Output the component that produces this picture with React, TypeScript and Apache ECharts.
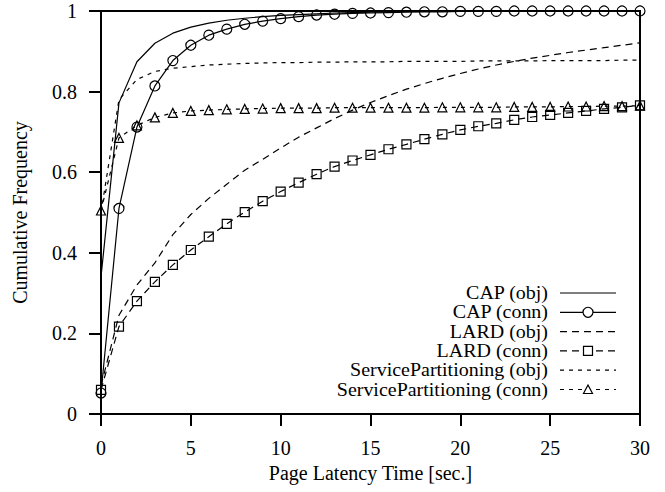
import React, { useEffect, useRef } from "react";
import * as echarts from "echarts";

const latency = [0,1,2,3,4,5,6,7,8,9,10,11,12,13,14,15,16,17,18,19,20,21,22,23,24,25,26,27,28,29,30];
const xTicks = [0, 5, 10, 15, 20, 25, 30];
const yTicks = [0, 0.2, 0.4, 0.6, 0.8, 1];

const capObj = [0.34,0.772,0.874,0.92,0.945,0.96,0.97,0.977,0.982,0.986,0.989,0.991,0.993,0.995,0.996,0.997,0.998,0.999,0.999,1,1,1,1,1,1,1,1,1,1,1,1];
const capConn = [0.052,0.51,0.712,0.814,0.877,0.915,0.94,0.955,0.967,0.975,0.981,0.986,0.99,0.992,0.994,0.995,0.996,0.997,0.998,0.998,0.999,0.999,0.999,1,1,1,1,1,1,1,1];
const lardObj = [0.07,0.245,0.32,0.375,0.445,0.495,0.535,0.57,0.605,0.632,0.66,0.687,0.71,0.733,0.754,0.773,0.79,0.806,0.82,0.833,0.845,0.856,0.866,0.875,0.883,0.89,0.897,0.903,0.909,0.915,0.921];
const lardConn = [0.06,0.217,0.28,0.328,0.37,0.407,0.44,0.472,0.501,0.528,0.552,0.574,0.595,0.614,0.629,0.643,0.657,0.669,0.682,0.694,0.705,0.714,0.721,0.73,0.737,0.742,0.747,0.752,0.757,0.761,0.766];
const spObj = [0.5,0.78,0.83,0.85,0.858,0.862,0.866,0.868,0.87,0.871,0.872,0.872,0.873,0.873,0.874,0.874,0.874,0.875,0.875,0.875,0.875,0.876,0.876,0.876,0.876,0.877,0.877,0.877,0.877,0.878,0.878];
const spConn = [0.505,0.685,0.716,0.736,0.747,0.752,0.754,0.756,0.757,0.758,0.759,0.759,0.759,0.76,0.76,0.76,0.76,0.76,0.76,0.761,0.761,0.761,0.761,0.762,0.762,0.762,0.763,0.763,0.764,0.764,0.765];

const seriesNames = [
  "CAP (obj)",
  "CAP (conn)",
  "LARD (obj)",
  "LARD (conn)",
  "ServicePartitioning (obj)",
  "ServicePartitioning (conn)",
];

const FONT = "'Liberation Serif', 'DejaVu Serif', serif";
const FS = 20;

export default function App() {
  const ref = useRef<HTMLDivElement>(null);
  useEffect(() => {
    if (!ref.current) return;
    const chart = echarts.init(ref.current, null, { renderer: "svg" });
    const toPairs = (ys: number[]) => latency.map((x, i) => [x, ys[i]]);
    const lw = 1.2;
    const styles = [
      { data: capObj, dash: "solid" as any, symbol: "none" },
      { data: capConn, dash: "solid" as any, symbol: "circle", size: 10 },
      { data: lardObj, dash: [7, 5], symbol: "none" },
      { data: lardConn, dash: [7, 5], symbol: "rect", size: 9 },
      { data: spObj, dash: [4, 5], symbol: "none" },
      { data: spConn, dash: [4, 5], symbol: "triangle", size: 9 },
    ];
    const series = styles.map((s, i) => ({
      name: seriesNames[i],
      type: "line",
      data: toPairs(s.data),
      symbol: s.symbol,
      symbolSize: (s as any).size || 0,
      showSymbol: s.symbol !== "none",
      clip: false,
      lineStyle: { color: "#000", width: lw, type: s.dash },
      itemStyle: { color: "transparent", borderColor: "#000", borderWidth: lw },
      emphasis: { disabled: true },
      z: 3,
    }));

    // legend (manual)
    const legendX = 548;
    const lineX0 = 560;
    const lineX1 = 616;
    const rowY0 = 293;
    const rowGap = 19.3;
    const graphic: any[] = [];
    styles.forEach((s, i) => {
      const y = rowY0 + i * rowGap;
      graphic.push({
        type: "text",
        x: legendX,
        y,
        scaleX: 1.11,
        scaleY: 1,
        style: {
          text: seriesNames[i],
          font: `18px ${FONT}`,
          lineHeight: 18,
          fill: "#000",
          align: "right",
          verticalAlign: "middle",
        },
      });
      graphic.push({
        type: "line",
        shape: { x1: lineX0, y1: y, x2: lineX1, y2: y },
        style: { stroke: "#000", lineWidth: lw, lineDash: Array.isArray(s.dash) ? s.dash : null },
      });
      const cx = (lineX0 + lineX1) / 2;
      if (s.symbol === "circle") {
        graphic.push({ type: "circle", shape: { cx, cy: y, r: 5 }, style: { fill: "#fff", stroke: "#000", lineWidth: lw } });
      } else if (s.symbol === "rect") {
        graphic.push({ type: "rect", shape: { x: cx - 4.5, y: y - 4.5, width: 9, height: 9 }, style: { fill: "#fff", stroke: "#000", lineWidth: lw } });
      } else if (s.symbol === "triangle") {
        graphic.push({ type: "polygon", shape: { points: [[cx, y - 4.5], [cx + 4.5, y + 4], [cx - 4.5, y + 4]] }, style: { fill: "#fff", stroke: "#000", lineWidth: lw } });
      }
    });

    chart.setOption({
      animation: false,
      backgroundColor: "#fff",
      textStyle: { fontFamily: FONT },
      grid: { left: 101, right: 25, top: 11, bottom: 78, show: true, borderColor: "#000", borderWidth: 2, containLabel: false },
      xAxis: {
        type: "value",
        min: xTicks[0],
        max: xTicks[xTicks.length - 1],
        interval: 5,
        name: "Page Latency Time [sec.]",
        nameLocation: "middle",
        nameGap: 45,
        nameTextStyle: { fontFamily: FONT, fontSize: FS, color: "#000" },
        axisLine: { show: true, lineStyle: { color: "#000", width: 2 } },
        axisTick: { show: true, inside: false, length: 12, lineStyle: { color: "#000", width: 2 } },
        axisLabel: { fontFamily: FONT, fontSize: FS, color: "#000", margin: 24 },
        splitLine: { show: false },
      },
      yAxis: {
        type: "value",
        min: yTicks[0],
        max: yTicks[yTicks.length - 1],
        interval: 0.2,
        name: "Cumulative Frequency",
        nameLocation: "middle",
        nameGap: 71,
        nameRotate: 90,
        nameTextStyle: { fontFamily: FONT, fontSize: FS, color: "#000" },
        axisLine: { show: true, lineStyle: { color: "#000", width: 2 } },
        axisTick: { show: true, inside: false, length: 12, lineStyle: { color: "#000", width: 2 } },
        axisLabel: { fontFamily: FONT, fontSize: FS, color: "#000", margin: 24 },
        splitLine: { show: false },
      },
      series,
      graphic,
    });
    return () => chart.dispose();
  }, []);
  return <div ref={ref} style={{ width: 665, height: 492, position: "absolute", left: 0, top: 0 }} />;
}
